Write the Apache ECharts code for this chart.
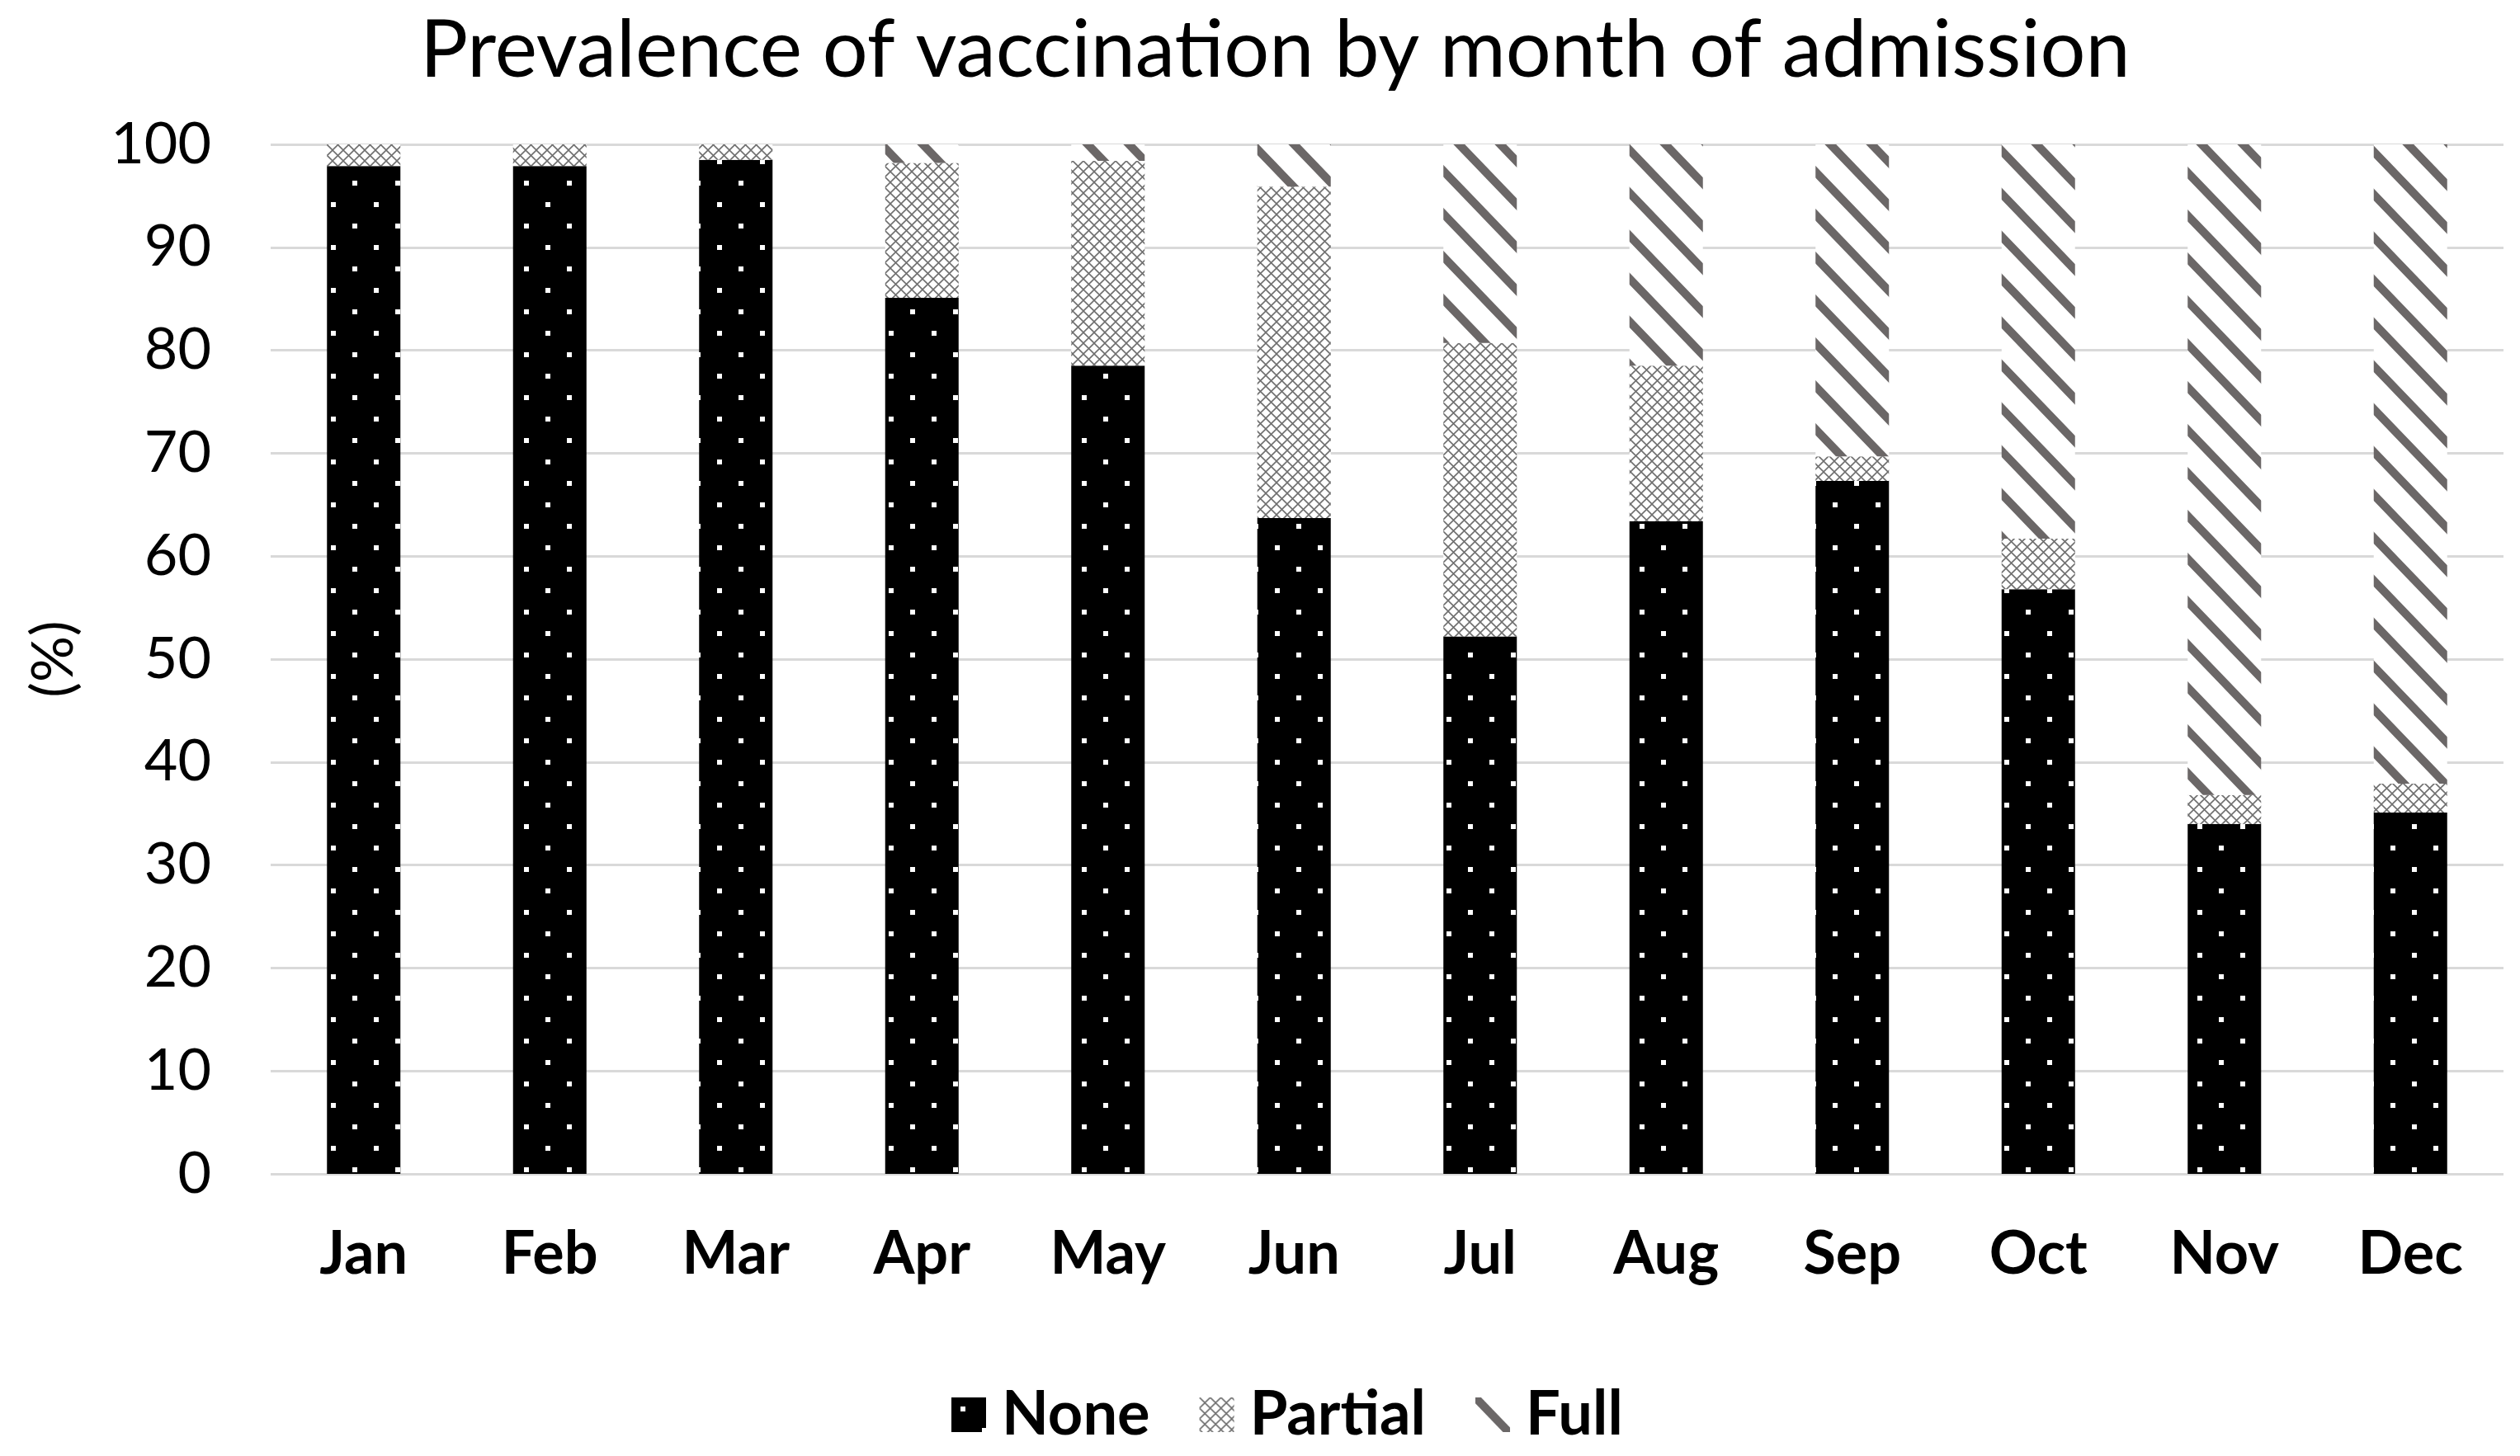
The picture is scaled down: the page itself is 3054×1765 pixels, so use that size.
<!DOCTYPE html>
<html>
<head>
<meta charset="utf-8">
<script src="https://cdn.jsdelivr.net/npm/echarts@6/dist/echarts.min.js"></script>
<style>
html,body{margin:0;padding:0;background:#fff;}
#chart{width:3054px;height:1765px;}
</style>
</head>
<body>
<div id="chart"></div>
<script>
var months = ['Jan','Feb','Mar','Apr','May','Jun','Jul','Aug','Sep','Oct','Nov','Dec'];
var noneVals = [97.9, 97.9, 98.5, 85.1, 78.5, 63.7, 52.2, 63.4, 67.3, 56.8, 34.0, 35.1];
var partialVals = [2.1, 2.1, 1.5, 13.1, 19.9, 32.2, 28.5, 15.1, 2.4, 4.9, 2.8, 2.8];
var fullVals = [0, 0, 0, 1.8, 1.6, 4.1, 19.3, 21.5, 30.3, 38.3, 63.2, 62.1];
var yTicks = [0, 10, 20, 30, 40, 50, 60, 70, 80, 90, 100];

function dotsTile() {
  var c = document.createElement('canvas');
  c.width = 52; c.height = 52;
  var g = c.getContext('2d');
  g.fillStyle = '#000'; g.fillRect(0, 0, 52, 52);
  g.fillStyle = '#fff';
  g.fillRect(11, 11, 6, 6);
  g.fillRect(37, 37, 6, 6);
  return c;
}
function crossTile() {
  var s = 13;
  var c = document.createElement('canvas');
  c.width = s; c.height = s;
  var g = c.getContext('2d');
  g.fillStyle = '#fff'; g.fillRect(0, 0, s, s);
  g.strokeStyle = '#6f6f6f'; g.lineWidth = 1.6;
  g.beginPath();
  g.moveTo(0, 0); g.lineTo(s, s);
  g.moveTo(s, 0); g.lineTo(0, s);
  g.stroke();
  return c;
}
function stripeTile() {
  var W = 50, H = 52;
  var c = document.createElement('canvas');
  c.width = W; c.height = H;
  var g = c.getContext('2d');
  g.fillStyle = '#fff'; g.fillRect(0, 0, W, H);
  g.strokeStyle = '#6b6767'; g.lineWidth = 10;
  g.beginPath();
  for (var k = -1; k <= 1; k++) {
    g.moveTo(-W, -H + k * H);
    g.lineTo(2 * W, 2 * H + k * H);
  }
  g.stroke();
  return c;
}

var chart = echarts.init(document.getElementById('chart'));
var font = 'Lato';
chart.setOption({
  backgroundColor: '#fff',
  animation: false,
  title: {
    text: 'Prevalence of vaccination by month of admission',
    left: 504, top: 8,
    textStyle: { fontFamily: font, fontSize: 97, fontWeight: 'normal', color: '#000' }
  },
  legend: {
    bottom: 8, left: 1148,
    itemWidth: 42, itemHeight: 42, itemGap: 60,
    icon: 'rect',
    textStyle: { fontFamily: font, fontSize: 74, fontWeight: 'bold', color: '#000', padding: [0, 0, 0, 14] },
    data: ['None', 'Partial', 'Full']
  },
  grid: { left: 328, top: 175, width: 2706, height: 1248, containLabel: false },
  xAxis: {
    type: 'category', data: months,
    axisLine: { show: false }, axisTick: { show: false },
    axisLabel: { fontFamily: font, fontSize: 72, fontWeight: 'bold', color: '#000', margin: 62 }
  },
  yAxis: {
    type: 'value', min: 0, max: 100, interval: 10,
    name: '(%)', nameLocation: 'middle', nameGap: 228,
    nameTextStyle: { fontFamily: font, fontSize: 70, color: '#000' },
    axisLine: { show: false }, axisTick: { show: false },
    axisLabel: { fontFamily: font, fontSize: 70, color: '#000', margin: 72,
      formatter: function (v) { return yTicks.indexOf(v) >= 0 ? String(v) : ''; } },
    splitLine: { lineStyle: { color: '#d9d9d9', width: 3 } }
  },
  series: [
    { name: 'None', type: 'bar', stack: 'v', data: noneVals, barWidth: 89,
      itemStyle: { color: { image: dotsTile(), repeat: 'repeat' } } },
    { name: 'Partial', type: 'bar', stack: 'v', data: partialVals, barWidth: 89,
      itemStyle: { color: { image: crossTile(), repeat: 'repeat' } } },
    { name: 'Full', type: 'bar', stack: 'v', data: fullVals, barWidth: 89,
      itemStyle: { color: { image: stripeTile(), repeat: 'repeat' } } }
  ]
});
</script>
</body>
</html>
